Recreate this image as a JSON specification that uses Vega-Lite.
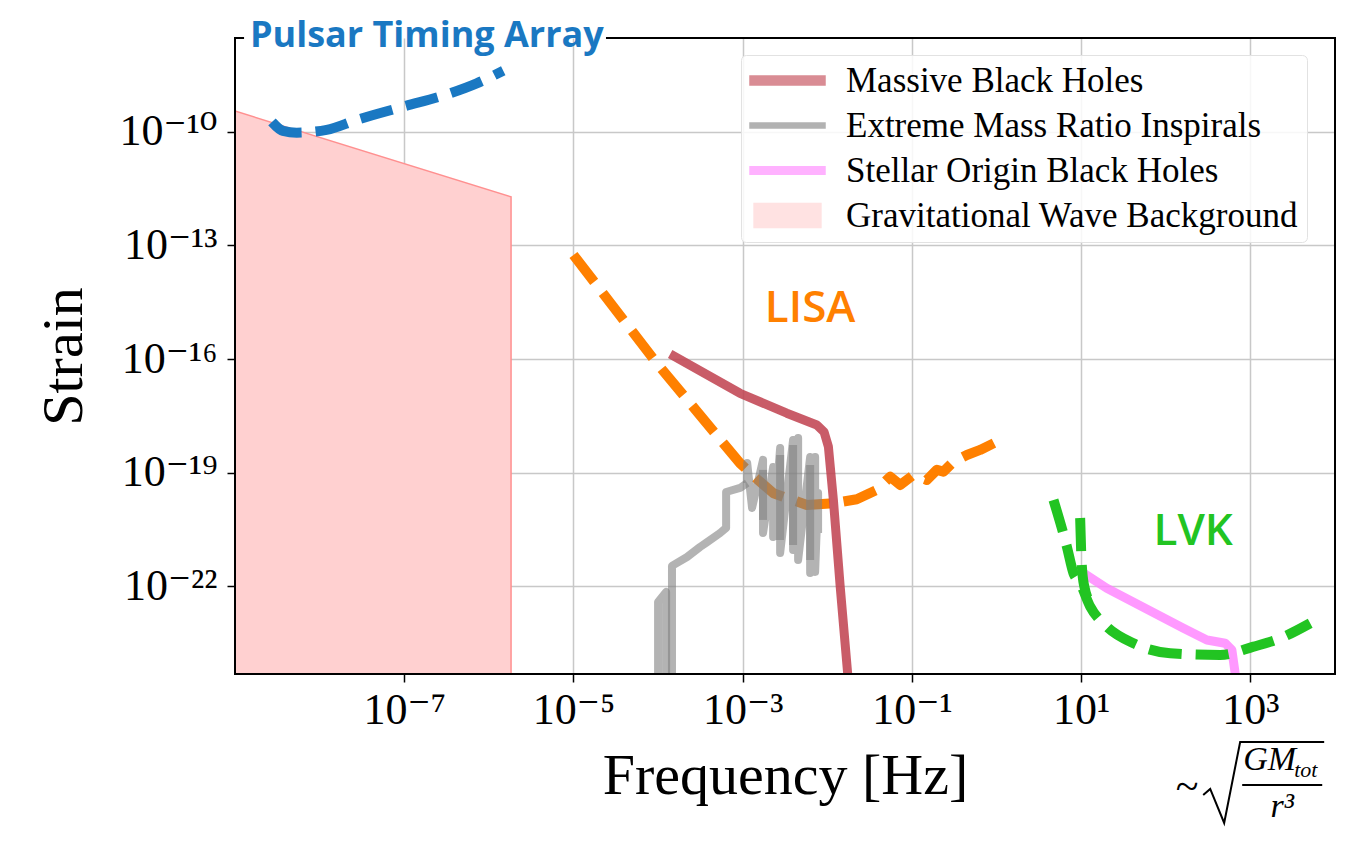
{
  "$schema": "https://vega.github.io/schema/vega-lite/v6.json",
  "width": 1100,
  "height": 636,
  "autosize": "none",
  "padding": {"left": 235, "top": 38, "right": 19, "bottom": 167},
  "background": "white",
  "config": {"view": {"stroke": null}, "font": "Liberation Serif"},
  "datasets": {
    "gwb": [
      {"series": "Gravitational Wave Background", "f": 1e-9, "h": 3.5e-10, "h2": 1e-26},
      {"series": "Gravitational Wave Background", "f": 1.83e-6, "h": 1.9e-12, "h2": 1e-26}
    ],
    "pta": [
      {"i": 0, "f": 2.74e-9, "h": 1.8e-10},
      {"i": 1, "f": 3.69e-9, "h": 1.05e-10},
      {"i": 2, "f": 5.36e-9, "h": 9.42e-11},
      {"i": 3, "f": 1.21e-8, "h": 1.11e-10},
      {"i": 4, "f": 2.75e-8, "h": 2.04e-10},
      {"i": 5, "f": 9.75e-8, "h": 4.57e-10},
      {"i": 6, "f": 3.48e-7, "h": 1.03e-9},
      {"i": 7, "f": 7.19e-7, "h": 1.89e-9},
      {"i": 8, "f": 1.48e-6, "h": 4.06e-9}
    ],
    "lisa": [
      {"i": 0, "f": 1.0e-5, "h": 5.58e-14},
      {"i": 1, "f": 9.66e-5, "h": 7.74e-17},
      {"i": 2, "f": 9.31e-4, "h": 1.78e-19},
      {"i": 3, "f": 1.47e-3, "h": 6.86e-20},
      {"i": 4, "f": 2.31e-3, "h": 2.88e-20},
      {"i": 5, "f": 5.73e-3, "h": 1.41e-20},
      {"i": 6, "f": 1.18e-2, "h": 1.57e-20},
      {"i": 7, "f": 2.23e-2, "h": 2.0e-20},
      {"i": 8, "f": 3.85e-2, "h": 3.52e-20},
      {"i": 9, "f": 5.52e-2, "h": 7.89e-20},
      {"i": 10, "f": 7.26e-2, "h": 4.76e-20},
      {"i": 11, "f": 0.104, "h": 8.75e-20},
      {"i": 12, "f": 0.150, "h": 6.46e-20},
      {"i": 13, "f": 0.197, "h": 1.19e-19},
      {"i": 14, "f": 0.236, "h": 1.07e-19},
      {"i": 15, "f": 0.310, "h": 1.96e-19},
      {"i": 16, "f": 0.446, "h": 2.95e-19},
      {"i": 17, "f": 0.640, "h": 4.0e-19},
      {"i": 18, "f": 1.01, "h": 6.62e-19}
    ],
    "emri": [
      {"series": "Extreme Mass Ratio Inspirals", "seg": "a", "i": 0, "f": 1.0e-4, "h": 1.86e-25},
      {"series": "Extreme Mass Ratio Inspirals", "seg": "a", "i": 1, "f": 1.0e-4, "h": 3.9e-23},
      {"series": "Extreme Mass Ratio Inspirals", "seg": "a", "i": 2, "f": 1.245e-4, "h": 7.16e-23},
      {"series": "Extreme Mass Ratio Inspirals", "seg": "a", "i": 3, "f": 1.245e-4, "h": 1.86e-25},
      {"series": "Extreme Mass Ratio Inspirals", "seg": "b", "i": 0, "f": 1.46e-4, "h": 1.86e-25},
      {"series": "Extreme Mass Ratio Inspirals", "seg": "b", "i": 1, "f": 1.46e-4, "h": 3.48e-22},
      {"series": "Extreme Mass Ratio Inspirals", "seg": "b", "i": 2, "f": 2.2e-4, "h": 6.0e-22},
      {"series": "Extreme Mass Ratio Inspirals", "seg": "b", "i": 3, "f": 3.13e-4, "h": 1.1e-21},
      {"series": "Extreme Mass Ratio Inspirals", "seg": "b", "i": 4, "f": 3.69e-4, "h": 1.41e-21},
      {"series": "Extreme Mass Ratio Inspirals", "seg": "b", "i": 5, "f": 5.41e-4, "h": 2.58e-21},
      {"series": "Extreme Mass Ratio Inspirals", "seg": "b", "i": 6, "f": 6.37e-4, "h": 3.5e-21},
      {"series": "Extreme Mass Ratio Inspirals", "seg": "b", "i": 7, "f": 6.37e-4, "h": 3.11e-20},
      {"series": "Extreme Mass Ratio Inspirals", "seg": "b", "i": 8, "f": 9.31e-4, "h": 3.97e-20},
      {"series": "Extreme Mass Ratio Inspirals", "seg": "b", "i": 9, "f": 1.13e-3, "h": 5.38e-20},
      {"series": "Extreme Mass Ratio Inspirals", "seg": "c", "i": 0, "f": 1.13e-3, "h": 5.38e-20},
      {"series": "Extreme Mass Ratio Inspirals", "seg": "c", "i": 1, "f": 1.13e-3, "h": 1.82e-19},
      {"series": "Extreme Mass Ratio Inspirals", "seg": "c", "i": 2, "f": 1.29e-3, "h": 1.18e-20},
      {"series": "Extreme Mass Ratio Inspirals", "seg": "c", "i": 3, "f": 1.74e-3, "h": 2.18e-19},
      {"series": "Extreme Mass Ratio Inspirals", "seg": "c", "i": 4, "f": 1.74e-3, "h": 2.58e-21},
      {"series": "Extreme Mass Ratio Inspirals", "seg": "c", "i": 5, "f": 2.29e-3, "h": 1.42e-19},
      {"series": "Extreme Mass Ratio Inspirals", "seg": "c", "i": 6, "f": 2.29e-3, "h": 2.02e-21},
      {"series": "Extreme Mass Ratio Inspirals", "seg": "c", "i": 7, "f": 2.77e-3, "h": 4.51e-19},
      {"series": "Extreme Mass Ratio Inspirals", "seg": "c", "i": 8, "f": 2.77e-3, "h": 7.66e-22},
      {"series": "Extreme Mass Ratio Inspirals", "seg": "c", "i": 9, "f": 3.94e-3, "h": 7.33e-19},
      {"series": "Extreme Mass Ratio Inspirals", "seg": "c", "i": 10, "f": 3.94e-3, "h": 9.18e-22},
      {"series": "Extreme Mass Ratio Inspirals", "seg": "c", "i": 11, "f": 4.52e-3, "h": 8.28e-19},
      {"series": "Extreme Mass Ratio Inspirals", "seg": "c", "i": 12, "f": 4.52e-3, "h": 5.0e-22},
      {"series": "Extreme Mass Ratio Inspirals", "seg": "c", "i": 13, "f": 6.27e-3, "h": 2.61e-19},
      {"series": "Extreme Mass Ratio Inspirals", "seg": "c", "i": 14, "f": 6.27e-3, "h": 2.27e-22},
      {"series": "Extreme Mass Ratio Inspirals", "seg": "c", "i": 15, "f": 7.18e-3, "h": 2.61e-19},
      {"series": "Extreme Mass Ratio Inspirals", "seg": "c", "i": 16, "f": 7.18e-3, "h": 2.42e-22},
      {"series": "Extreme Mass Ratio Inspirals", "seg": "c", "i": 17, "f": 7.78e-3, "h": 2.93e-20},
      {"series": "Extreme Mass Ratio Inspirals", "seg": "c", "i": 18, "f": 7.78e-3, "h": 2.58e-21},
      {"series": "Extreme Mass Ratio Inspirals", "seg": "d1", "i": 0, "f": 1.74e-3, "h": 1.19e-19},
      {"series": "Extreme Mass Ratio Inspirals", "seg": "d1", "i": 1, "f": 1.74e-3, "h": 5.69e-21},
      {"series": "Extreme Mass Ratio Inspirals", "seg": "d2", "i": 0, "f": 2.77e-3, "h": 2.95e-19},
      {"series": "Extreme Mass Ratio Inspirals", "seg": "d2", "i": 1, "f": 2.77e-3, "h": 1.69e-21},
      {"series": "Extreme Mass Ratio Inspirals", "seg": "d3", "i": 0, "f": 3.94e-3, "h": 5.42e-19},
      {"series": "Extreme Mass Ratio Inspirals", "seg": "d3", "i": 1, "f": 3.94e-3, "h": 1.25e-21},
      {"series": "Extreme Mass Ratio Inspirals", "seg": "d4", "i": 0, "f": 6.27e-3, "h": 1.61e-19},
      {"series": "Extreme Mass Ratio Inspirals", "seg": "d4", "i": 1, "f": 6.27e-3, "h": 5.0e-22}
    ],
    "mbh": [
      {"series": "Massive Black Holes", "i": 0, "f": 1.39e-4, "h": 1.36e-16},
      {"series": "Massive Black Holes", "i": 1, "f": 9.31e-4, "h": 1.25e-17},
      {"series": "Massive Black Holes", "i": 2, "f": 3.32e-3, "h": 3.72e-18},
      {"series": "Massive Black Holes", "i": 3, "f": 7.52e-3, "h": 1.82e-18},
      {"series": "Massive Black Holes", "i": 4, "f": 9.16e-3, "h": 1.19e-18},
      {"series": "Massive Black Holes", "i": 5, "f": 1.03e-2, "h": 4.89e-19},
      {"series": "Massive Black Holes", "i": 6, "f": 1.18e-2, "h": 1.91e-20},
      {"series": "Massive Black Holes", "i": 7, "f": 1.42e-2, "h": 9.89e-23},
      {"series": "Massive Black Holes", "i": 8, "f": 1.81e-2, "h": 1.82e-25}
    ],
    "sobh": [
      {"series": "Stellar Origin Black Holes", "i": 0, "f": 10.0, "h": 2.46e-22},
      {"series": "Stellar Origin Black Holes", "i": 1, "f": 20.1, "h": 8.97e-23},
      {"series": "Stellar Origin Black Holes", "i": 2, "f": 162, "h": 7.89e-24},
      {"series": "Stellar Origin Black Holes", "i": 3, "f": 306, "h": 3.87e-24},
      {"series": "Stellar Origin Black Holes", "i": 4, "f": 504, "h": 3.17e-24},
      {"series": "Stellar Origin Black Holes", "i": 5, "f": 604, "h": 2.11e-24},
      {"series": "Stellar Origin Black Holes", "i": 6, "f": 661, "h": 5.1e-25},
      {"series": "Stellar Origin Black Holes", "i": 7, "f": 698, "h": 1.86e-25}
    ],
    "lvk": [
      {"seg": "A", "i": 0, "f": 4.71, "h": 1.91e-20},
      {"seg": "A", "i": 1, "f": 6.78, "h": 1.12e-21},
      {"seg": "A", "i": 2, "f": 8.11, "h": 2.23e-22},
      {"seg": "A", "i": 3, "f": 9.73, "h": 1.21e-22},
      {"seg": "A", "i": 4, "f": 12.8, "h": 2.93e-23},
      {"seg": "A", "i": 5, "f": 20.1, "h": 8.69e-24},
      {"seg": "A", "i": 6, "f": 41.5, "h": 3.17e-24},
      {"seg": "A", "i": 7, "f": 113, "h": 1.73e-24},
      {"seg": "A", "i": 8, "f": 440, "h": 1.56e-24},
      {"seg": "A", "i": 9, "f": 1089, "h": 2.58e-24},
      {"seg": "A", "i": 10, "f": 2249, "h": 4.3e-24},
      {"seg": "A", "i": 11, "f": 5093, "h": 1.07e-23},
      {"seg": "B", "i": 0, "f": 9.73, "h": 6.41e-21},
      {"seg": "B", "i": 1, "f": 10.1, "h": 5.0e-22},
      {"seg": "B", "i": 2, "f": 10.8, "h": 1.09e-22},
      {"seg": "B", "i": 3, "f": 13.5, "h": 3.06e-23}
    ],
    "frame": [
      {"f": 1e-9, "f2": 1e-9, "h": 4.9e-25, "h2": 2.96e-8},
      {"f": 1e4, "f2": 1e4, "h": 4.9e-25, "h2": 2.96e-8},
      {"f": 1e-9, "f2": 1e4, "h": 4.9e-25, "h2": 4.9e-25},
      {"f": 1e-9, "f2": 1.245e-9, "h": 2.96e-8, "h2": 2.96e-8},
      {"f": 2.49e-5, "f2": 1e4, "h": 2.96e-8, "h2": 2.96e-8}
    ],
    "pta_label": [{"f": 1.5e-9, "h": 1.72e-8, "text": "Pulsar Timing Array"}],
    "lisa_label": [{"f": 6.27e-3, "h": 9.5e-16, "text": "LISA"}],
    "lvk_label": [{"f": 211, "h": 1.25e-21, "text": "LVK"}],
    "formula_main": [
      {"f": 822, "h": 1.44e-27, "text": "GM"}
    ],
    "formula_sub": [
      {"f": 3300, "h": 9.42e-28, "text": "tot"}
    ],
    "formula_den": [
      {"f": 2377, "h": 8.28e-29, "text": "r³"}
    ],
    "formula_tilde": [
      {"f": 179, "h": 5.13e-28, "text": "~"}
    ],
    "radical": [
      {"i": 0, "f": 277, "h": 3.15e-28},
      {"i": 1, "f": 335, "h": 4.54e-28},
      {"i": 2, "f": 490, "h": 5.75e-29},
      {"i": 3, "f": 757, "h": 7.89e-27},
      {"i": 4, "f": 7447, "h": 7.89e-27}
    ],
    "fracbar": [
      {"f": 800, "f2": 7063, "h": 5.79e-28, "h2": 5.79e-28}
    ]
  },
  "encoding": {
    "x": {
      "field": "f",
      "type": "quantitative",
      "scale": {"type": "log", "domain": [1e-9, 1e4], "nice": false},
      "axis": {
        "title": "Frequency [Hz]",
        "values": [1e-7, 1e-5, 1e-3, 0.1, 10, 1000],
        "labelExpr": "datum.value < 1e-6 ? '10⁻⁷' : datum.value < 1e-4 ? '10⁻⁵' : datum.value < 1e-2 ? '10⁻³' : datum.value < 1 ? '10⁻¹' : datum.value < 100 ? '10¹' : '10³'",
        "domain": false,
        "ticks": true,
        "tickColor": "black",
        "tickSize": 8,
        "tickWidth": 1.5,
        "grid": true,
        "gridColor": "#c8c8c8",
        "gridWidth": 1.5,
        "labelFont": "Liberation Serif, DejaVu Serif",
        "labelFontSize": 44,
        "labelColor": "black",
        "labelPadding": 6,
        "labelFlush": false,
        "labelOverlap": false,
        "titleFont": "Liberation Serif",
        "titleFontSize": 58,
        "titleFontWeight": "normal",
        "titleColor": "black",
        "titlePadding": 15
      }
    },
    "y": {
      "field": "h",
      "type": "quantitative",
      "scale": {"type": "log", "domain": [4.9e-25, 2.96e-8], "nice": false},
      "axis": {
        "title": "Strain",
        "values": [1e-22, 1e-19, 1e-16, 1e-13, 1e-10],
        "labelExpr": "datum.value < 1e-21 ? '10⁻²²' : datum.value < 1e-18 ? '10⁻¹⁹' : datum.value < 1e-15 ? '10⁻¹⁶' : datum.value < 1e-12 ? '10⁻¹³' : '10⁻¹⁰'",
        "domain": false,
        "ticks": true,
        "tickColor": "black",
        "tickSize": 8,
        "tickWidth": 1.5,
        "grid": true,
        "gridColor": "#c8c8c8",
        "gridWidth": 1.5,
        "labelFont": "Liberation Serif, DejaVu Serif",
        "labelFontSize": 44,
        "labelColor": "black",
        "labelPadding": 10,
        "labelFlush": false,
        "labelOverlap": false,
        "titleFont": "Liberation Serif",
        "titleFontSize": 58,
        "titleFontWeight": "normal",
        "titleColor": "black",
        "titlePadding": 25
      }
    }
  },
  "layer": [
    {
      "data": {"name": "gwb"},
      "mark": {"type": "area", "clip": true, "stroke": "#ff9090", "strokeWidth": 1.5},
      "encoding": {
        "y2": {"field": "h2"},
        "color": {
          "field": "series",
          "type": "nominal",
          "scale": {
            "domain": ["Massive Black Holes", "Extreme Mass Ratio Inspirals", "Stellar Origin Black Holes", "Gravitational Wave Background"],
            "range": ["#c0404e", "#808080", "#ff80ff", "#ffd0d0"]
          },
          "legend": {
            "title": null,
            "orient": "none",
            "legendX": 506,
            "legendY": 17,
            "direction": "vertical",
            "padding": 8,
            "fillColor": "rgba(255,255,255,0.85)",
            "strokeColor": "#e2e2e2",
            "cornerRadius": 5,
            "labelFont": "Liberation Serif",
            "labelFontSize": 35,
            "labelColor": "black",
            "labelLimit": 800,
            "labelOffset": 41,
            "symbolSize": 900,
            "symbolOffset": 21,
            "symbolStrokeWidth": 1.5,
            "rowPadding": 9,
            "symbolType": {"expr": "datum.value === 'Gravitational Wave Background' ? 'M-2.23,-0.8H2.23V0.8H-2.23Z' : datum.value === 'Extreme Mass Ratio Inspirals' ? 'M-2.5,-0.17H2.5V0.17H-2.5Z' : datum.value === 'Stellar Origin Black Holes' ? 'M-2.5,-0.25H2.5V0.25H-2.5Z' : 'M-2.5,-0.3H2.5V0.3H-2.5Z'"},
            "symbolFillColor": {"expr": "datum.value === 'Gravitational Wave Background' ? '#ffd0d0' : scale('color', datum.value)"},
            "symbolStrokeColor": {"expr": "datum.value === 'Gravitational Wave Background' ? '#ff9090' : scale('color', datum.value)"},
            "symbolOpacity": {"expr": "datum.value === 'Massive Black Holes' ? 0.85 : datum.value === 'Extreme Mass Ratio Inspirals' ? 0.6 : datum.value === 'Stellar Origin Black Holes' ? 0.8 : 1"}
          }
        }
      }
    },
    {
      "data": {"name": "pta"},
      "mark": {"type": "line", "clip": true, "color": "#1a78c2", "strokeWidth": 10, "strokeDash": [33, 14], "interpolate": "monotone"},
      "encoding": {"order": {"field": "i", "type": "quantitative"}}
    },
    {
      "data": {"name": "lisa"},
      "mark": {"type": "line", "clip": true, "color": "#ff8000", "strokeWidth": 10, "strokeDash": [34, 14], "strokeJoin": "round"},
      "encoding": {"order": {"field": "i", "type": "quantitative"}}
    },
    {
      "data": {"name": "emri"},
      "mark": {"type": "line", "clip": true, "strokeWidth": 8, "opacity": 0.6, "strokeJoin": "round"},
      "encoding": {
        "color": {"field": "series", "type": "nominal"},
        "detail": {"field": "seg", "type": "nominal"},
        "order": {"field": "i", "type": "quantitative"}
      }
    },
    {
      "data": {"name": "mbh"},
      "mark": {"type": "line", "clip": true, "strokeWidth": 9, "opacity": 0.85, "strokeJoin": "round"},
      "encoding": {
        "color": {"field": "series", "type": "nominal"},
        "order": {"field": "i", "type": "quantitative"}
      }
    },
    {
      "data": {"name": "sobh"},
      "mark": {"type": "line", "clip": true, "strokeWidth": 9, "opacity": 0.8, "strokeJoin": "round"},
      "encoding": {
        "color": {"field": "series", "type": "nominal"},
        "order": {"field": "i", "type": "quantitative"}
      }
    },
    {
      "data": {"name": "lvk"},
      "mark": {"type": "line", "clip": true, "color": "#22c422", "strokeWidth": 10, "strokeDash": [33, 14], "interpolate": "monotone"},
      "encoding": {
        "detail": {"field": "seg", "type": "nominal"},
        "order": {"field": "i", "type": "quantitative"}
      }
    },
    {
      "data": {"name": "pta_label"},
      "mark": {"type": "text", "font": "Open Sans", "fontWeight": "bold", "fontSize": 36, "color": "#1a78c2", "align": "left", "baseline": "alphabetic"},
      "encoding": {"text": {"field": "text"}}
    },
    {
      "data": {"name": "lisa_label"},
      "mark": {"type": "text", "font": "Open Sans", "fontWeight": 600, "fontSize": 44, "color": "#ff8000", "align": "center", "baseline": "alphabetic"},
      "encoding": {"text": {"field": "text"}}
    },
    {
      "data": {"name": "lvk_label"},
      "mark": {"type": "text", "font": "Open Sans", "fontWeight": 600, "fontSize": 44, "color": "#22c422", "align": "center", "baseline": "alphabetic"},
      "encoding": {"text": {"field": "text"}}
    },
    {
      "data": {"name": "formula_main"},
      "mark": {"type": "text", "font": "Liberation Serif", "fontStyle": "italic", "fontSize": 34, "color": "black", "align": "left", "baseline": "alphabetic"},
      "encoding": {"text": {"field": "text"}}
    },
    {
      "data": {"name": "formula_sub"},
      "mark": {"type": "text", "font": "Liberation Serif", "fontStyle": "italic", "fontSize": 22, "color": "black", "align": "left", "baseline": "alphabetic"},
      "encoding": {"text": {"field": "text"}}
    },
    {
      "data": {"name": "formula_den"},
      "mark": {"type": "text", "font": "Liberation Serif", "fontStyle": "italic", "fontSize": 34, "color": "black", "align": "center", "baseline": "alphabetic"},
      "encoding": {"text": {"field": "text"}}
    },
    {
      "data": {"name": "formula_tilde"},
      "mark": {"type": "text", "font": "Liberation Serif", "fontSize": 42, "color": "black", "align": "center", "baseline": "middle"},
      "encoding": {"text": {"field": "text"}}
    },
    {
      "data": {"name": "radical"},
      "mark": {"type": "line", "color": "black", "strokeWidth": 2, "strokeJoin": "miter"},
      "encoding": {"order": {"field": "i", "type": "quantitative"}}
    },
    {
      "data": {"name": "fracbar"},
      "mark": {"type": "rule", "color": "black", "strokeWidth": 2},
      "encoding": {"x2": {"field": "f2"}, "y2": {"field": "h2"}}
    },
    {
      "data": {"name": "frame"},
      "mark": {"type": "rule", "color": "black", "strokeWidth": 2, "strokeCap": "square"},
      "encoding": {"x2": {"field": "f2"}, "y2": {"field": "h2"}}
    }
  ]
}
